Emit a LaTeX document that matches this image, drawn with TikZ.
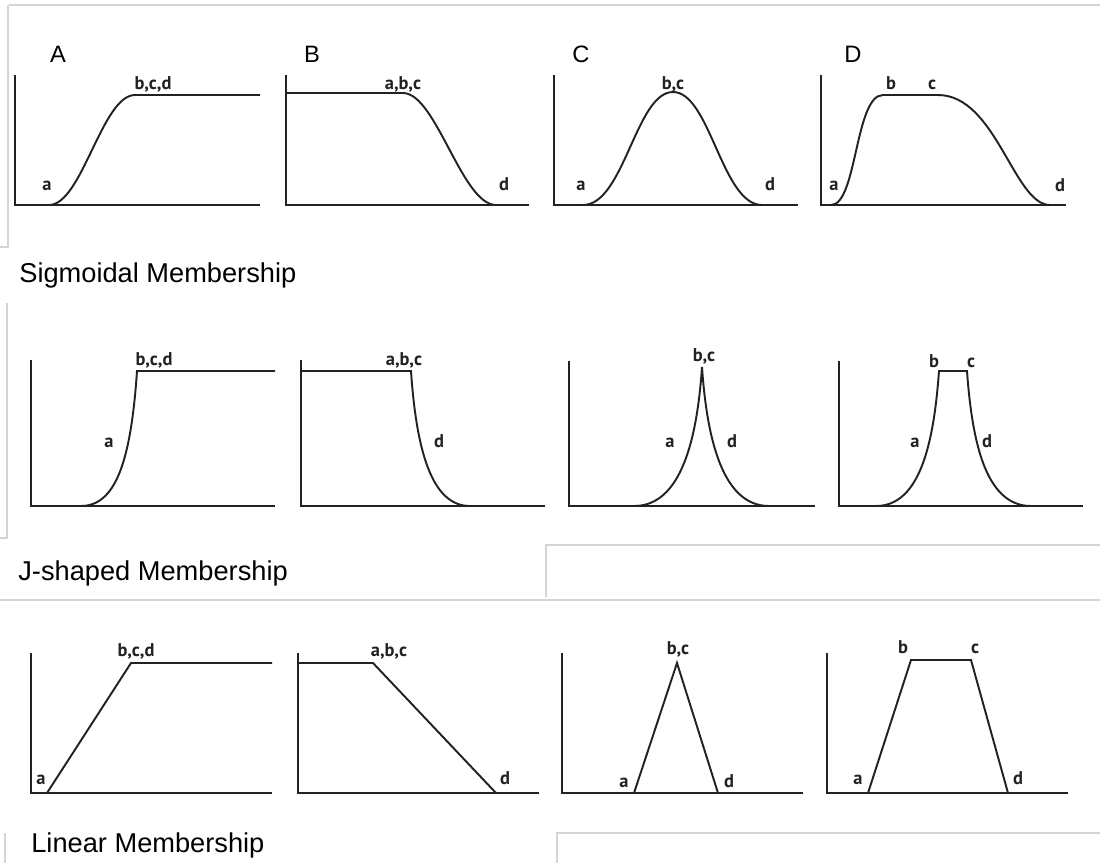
\documentclass[tikz,border=0pt]{standalone}
\usepackage{fontspec}
\setmainfont{Liberation Sans}
\newfontfamily\lblfont{PT Sans}
\usepackage{tikz}
\definecolor{inkgray}{RGB}{34, 34, 34}
\definecolor{rulegray}{RGB}{212, 212, 212}

\begin{document}
\begin{tikzpicture}[x=0.02cm, y=-0.02cm,
    axis/.style={line width=1.4pt, inkgray},
    curve/.style={line width=1.1pt, inkgray},
    pt/.style={anchor=base, inner sep=0pt, text=inkgray, font=\lblfont\bfseries\fontsize{10.5}{12}\selectfont},
    head/.style={anchor=base, inner sep=0pt, font=\fontsize{13.5}{16}\selectfont},
    title/.style={anchor=base west, inner sep=0pt, font=\fontsize{15.5}{18}\selectfont},
    frame/.style={rulegray, line width=0.6pt}]
    \useasboundingbox (0,0) rectangle (1100,863);

    % Screenshot frame lines
    \draw[frame] (9,5) -- (1100,5);
    \draw[frame] (8,5) -- (8,247) -- (0,247);
    \draw[frame] (7,303) -- (7,538) -- (0,538);
    \draw[frame] (546,597) -- (546,545) -- (1100,545);
    \draw[frame] (0,600) -- (1100,600);
    \draw[frame] (557,863) -- (557,833) -- (1100,833);
    \draw[frame] (5,833) -- (5,863);

    % Column letters
    \foreach \l/\x in {A/58, B/312, C/581, D/853}
        \node[head] (let\l) at (\x,62) {\l};

    % Axes, row by row
    \foreach \x/\e in {15/260, 286/529, 554/798, 821/1066}
        \draw[axis] (\x,75) -- (\x,205) -- (\e,205);
    \foreach \x/\e/\t in {31/275/360, 301/545/360, 569/815/361, 839/1083/361}
        \draw[axis] (\x,\t) -- (\x,506) -- (\e,506);
    \foreach \x/\e in {31/272, 298/539, 562/803, 827/1068}
        \draw[axis] (\x,653) -- (\x,793) -- (\e,793);

    % Sigmoidal curves
    \draw[curve] (49,205) .. controls (82,205) and (102,95) .. (135,95) -- (260,95);
    \draw[curve] (286,93) -- (403,93) .. controls (436,93) and (462,205) .. (496,205);
    \draw[curve] (583,205) .. controls (624,205) and (636,92) .. (673,92)
        .. controls (710,92) and (722,205) .. (762,205);
    \draw[curve] (831,205) .. controls (857,205) and (855,95) .. (883,95) -- (938,95)
        .. controls (996,95) and (1014,205) .. (1050,205);

    \node[pt] (sa1) at (47,190) {a};
    \node[pt] (sb1) at (153,89) {b,c,d};
    \node[pt] (sa2) at (403,89) {a,b,c};
    \node[pt] (sd2) at (504,190) {d};
    \node[pt] (sa3) at (581,190) {a};
    \node[pt] (sb3) at (673,89) {b,c};
    \node[pt] (sd3) at (770,190) {d};
    \node[pt] (sa4) at (834,190) {a};
    \node[pt] (sb4) at (891,89) {b};
    \node[pt] (sc4) at (932,89) {c};
    \node[pt] (sd4) at (1060,191) {d};

    \node[title] (sigtitle) at (19,282) {Sigmoidal Membership};

    % J-shaped curves
    \draw[curve] (81,506) .. controls (116,506) and (131,460) .. (137,371) -- (275,371);
    \draw[curve] (301,371) -- (411,371) .. controls (417,460) and (435,506) .. (470,506);
    \draw[curve] (634,506) .. controls (681,506) and (697,440) .. (702,367)
        .. controls (707,440) and (723,506) .. (769,506);
    \draw[curve] (876,506) .. controls (921,506) and (934,440) .. (939,371) -- (967,371)
        .. controls (972,440) and (985,506) .. (1031,506);

    \node[pt] (jb1) at (154,365) {b,c,d};
    \node[pt] (ja1) at (109,447) {a};
    \node[pt] (ja2) at (404,365) {a,b,c};
    \node[pt] (jd2) at (439,447) {d};
    \node[pt] (jb3) at (704,361) {b,c};
    \node[pt] (ja3) at (670,447) {a};
    \node[pt] (jd3) at (732,447) {d};
    \node[pt] (jb4) at (934,367) {b};
    \node[pt] (jc4) at (971,367) {c};
    \node[pt] (ja4) at (915,447) {a};
    \node[pt] (jd4) at (987,447) {d};

    \node[title] (jtitle) at (18,580) {J-shaped Membership};

    % Linear curves
    \draw[curve] (47,793) -- (131,663) -- (272,663);
    \draw[curve] (298,663) -- (373,663) -- (496,793);
    \draw[curve] (634,793) -- (677,663) -- (718,793);
    \draw[curve] (868,793) -- (911,660) -- (971,660) -- (1008,793);

    \node[pt] (la1) at (41,784) {a};
    \node[pt] (lb1) at (136,656) {b,c,d};
    \node[pt] (la2) at (389,656) {a,b,c};
    \node[pt] (ld2) at (505,784) {d};
    \node[pt] (la3) at (624,787) {a};
    \node[pt] (lb3) at (678,654) {b,c};
    \node[pt] (ld3) at (729,787) {d};
    \node[pt] (la4) at (858,784) {a};
    \node[pt] (lb4) at (903,653) {b};
    \node[pt] (lc4) at (975,653) {c};
    \node[pt] (ld4) at (1018,784) {d};

    \node[title] (lintitle) at (31,852) {Linear Membership};
\end{tikzpicture}
\end{document}
